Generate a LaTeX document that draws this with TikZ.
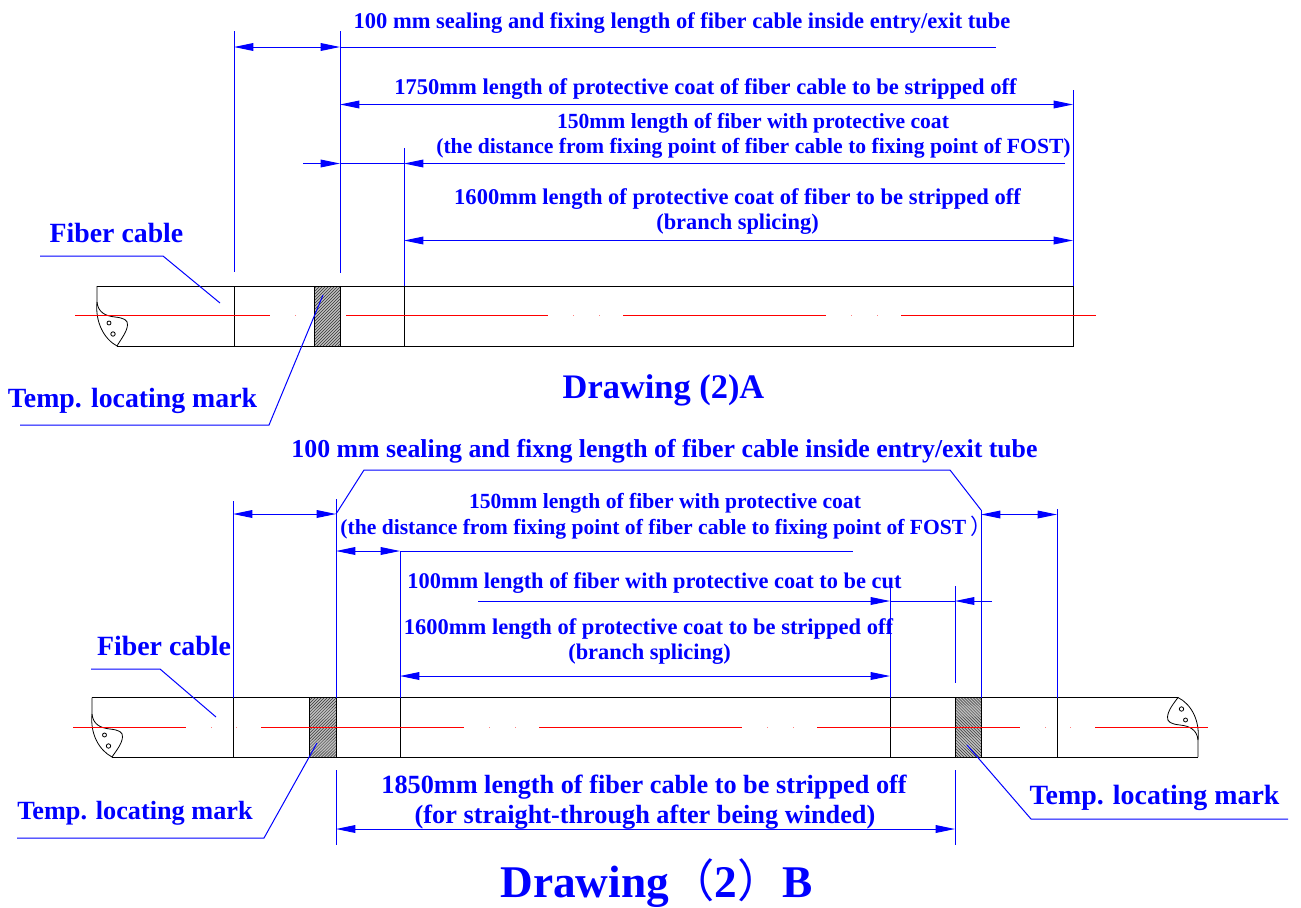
\documentclass[tikz,border=0pt]{standalone}
\usepackage{fontspec}
\setmainfont{Liberation Serif}
\newfontfamily\cjk{Noto Sans CJK SC}
\usetikzlibrary{arrows.meta}
\definecolor{dimblue}{RGB}{0,0,255}
\definecolor{centrered}{RGB}{255,0,0}
\tikzset{
  dim/.style={draw=dimblue,line width=0.75pt},
  tip/.style={dim,-{Triangle[length=14.5pt,width=5.8pt]}},
  tips/.style={dim,{Triangle[length=14.5pt,width=5.8pt]}-{Triangle[length=14.5pt,width=5.8pt]}},
  body/.style={draw=black,line width=0.75pt},
  curl/.style={draw=black,line width=0.6pt},
  centreline/.style={draw=centrered,line width=1pt},
  speck/.style={draw=centrered!50,line width=0.6pt},
  hatchline/.style={draw=black!80,line width=0.35pt},
  lab/.style={text=dimblue,anchor=base,inner sep=0pt,font=\fontsize{#1}{#1}\selectfont\bfseries},
}
\newcommand{\hatchup}[4]{% x0 y0 x1 y1
  \begin{scope}
    \clip (#1,#2) rectangle (#3,#4);
    \fill[black!25] (#1,#2) rectangle (#3,#4);
    \foreach \k in {0,3,...,90}{\draw[hatchline] (#1-5+\k,#4+2) -- (#1-5+\k+64,#2-2-0);}
    \foreach \k in {3,6,...,90}{\draw[hatchline] (#1-5-\k,#4+2) -- (#1-5-\k+64,#2-2-0);}
  \end{scope}}
\newcommand{\hatchdown}[4]{%
  \begin{scope}
    \clip (#1,#2) rectangle (#3,#4);
    \fill[black!25] (#1,#2) rectangle (#3,#4);
    \foreach \k in {0,3,...,90}{\draw[hatchline] (#1-5+\k,#2-2) -- (#1-5+\k+64,#4+2);}
    \foreach \k in {3,6,...,90}{\draw[hatchline] (#1-5-\k,#2-2) -- (#1-5-\k+64,#4+2);}
  \end{scope}}
\begin{document}
\begin{tikzpicture}[x=0.75pt,y=-0.75pt]
\useasboundingbox (0,0) rectangle (1301,907);
\fill[white] (0,0) rectangle (1301,907);

% ===== Drawing A body =====
\hatchup{314}{286}{340}{346}
\draw[body] (97,286) -- (1073,286) -- (1073,346) -- (117,346);
\draw[body] (234,286) -- (234,346);
\draw[body] (314,286) -- (314,346);
\draw[body] (340,286) -- (340,346);
\draw[body] (404,286) -- (404,346);
\draw[curl] (97,286) -- (97,302) .. controls (98,312) and (105,316) .. (115,317) .. controls (124,318) and (128,320) .. (127.5,325) .. controls (127,332) and (121,339) .. (117,346);
\draw[curl] (97,302) .. controls (95,322) and (104,339) .. (117,346);
\draw[curl] (109,323) circle (2);
\draw[curl] (113,334) circle (2.2);
\draw[centreline] (75,315.5) -- (270,315.5);
\draw[centreline] (346,315.5) -- (548,315.5);
\draw[centreline] (623,315.5) -- (826,315.5);
\draw[centreline] (901,315.5) -- (1096,315.5);
\foreach \p in {295,573,599,851,877}{\draw[speck] (\p,315.5) -- (\p+1.2,315.5);}

% ===== Drawing B body =====
\hatchup{309.5}{697.5}{336}{757}
\hatchdown{955}{697.5}{981}{757}
\draw[body] (92,697.5) -- (1178,697.5);
\draw[body] (112,757) -- (1198,757);
\foreach \p in {233,309.5,336,400,890,955,981,1057}{\draw[body] (\p,697.5) -- (\p,757);}
\draw[curl] (92,697.5) -- (92,714) .. controls (93,724) and (100,728) .. (110,729) .. controls (119,730) and (123,732) .. (122.5,737) .. controls (122,744) and (116,751) .. (112,757);
\draw[curl] (92,714) .. controls (90,734) and (99,750) .. (112,757);
\draw[curl] (104.5,735) circle (2);
\draw[curl] (108.5,746) circle (2.2);
\draw[curl] (1198,757) -- (1198,740) .. controls (1197,730) and (1190,726) .. (1180,725) .. controls (1171,724) and (1167,722) .. (1167.5,717) .. controls (1168,710) and (1174,703) .. (1178,697.5);
\draw[curl] (1198,740) .. controls (1200,720) and (1191,704) .. (1178,697.5);
\draw[curl] (1181.5,709) circle (2.2);
\draw[curl] (1185.5,720) circle (2);
\draw[centreline] (73,727.5) -- (186,727.5);
\draw[centreline] (261,727.5) -- (464,727.5);
\draw[centreline] (539,727.5) -- (742,727.5);
\draw[centreline] (817,727.5) -- (1020,727.5);
\draw[centreline] (1095,727.5) -- (1208,727.5);
\foreach \p in {211,236,489,515,767,793,1045,1070}{\draw[speck] (\p,727.5) -- (\p+1.2,727.5);}

% ===== Labels A =====
\node[lab=16.87] (a1) at (682,28) {100 mm sealing and fixing length of fiber cable inside entry/exit tube};
\node[lab=16.9] (a2) at (705.5,94) {1750mm length of protective coat of fiber cable to be stripped off};
\node[lab=16.2] (a3) at (753,128) {150mm length of fiber with protective coat};
\node[lab=16.23] (a4) at (753.5,153) {(the distance from fixing point of fiber cable to fixing point of FOST)};
\node[lab=16.9] (a5) at (737.5,204) {1600mm length of protective coat of fiber to be stripped off};
\node[lab=16.8] (a6) at (737.5,229) {(branch splicing)};
\node[lab=20.85] (a7) at (116.5,242) {Fiber cable};
\node[lab=20.85] (a8) at (132.5,407) {Temp. locating mark};
\node[lab=25.8] (a9) at (663.5,398) {Drawing (2)A};

% ===== Labels B =====
\node[lab=19.35] (b1) at (664.5,457) {100 mm sealing and fixng length of fiber cable inside entry/exit tube};
\node[lab=16.2] (b2) at (665,508) {150mm length of fiber with protective coat};
\node[lab=16.2] (b3) at (666,534) {(the distance from fixing point of fiber cable to fixing point of FOST\,{\cjk\mdseries ）}};
\node[lab=16.8] (b4) at (654.5,588) {100mm length of fiber with protective coat to be cut};
\node[lab=16.86] (b5) at (648.5,634) {1600mm length of protective coat to be stripped off};
\node[lab=16.8] (b6) at (649.5,659) {(branch splicing)};
\node[lab=20.9] (b7) at (164,655) {Fiber cable};
\node[lab=19.7] (b8) at (135,819) {Temp. locating mark};
\node[lab=20.9] (b9) at (1154.5,804) {Temp. locating mark};
\node[lab=19.7] (b10) at (644,793) {1850mm length of fiber cable to be stripped off};
\node[lab=19.7] (b11) at (645,823) {(for straight-through after being winded)};
\node[lab=34] (b12) at (656.5,897) {Drawing{\cjk\mdseries （}2{\cjk\mdseries ）}B};

% ===== Dimension lines A =====
\coordinate (A1t) at (234,31);   \coordinate (A1b) at (234,272);
\coordinate (A2t) at (340,31);   \coordinate (A2b) at (340,273);
\coordinate (A3t) at (1073,90);  \coordinate (A3b) at (1073,286);
\coordinate (A4t) at (404,148);  \coordinate (A4b) at (404,286);
\draw[dim] (A1t) -- (A1b);
\draw[dim] (A2t) -- (A2b);
\draw[dim] (A3t) -- (A3b);
\draw[dim] (A4t) -- (A4b);
\coordinate (Aa) at (234,47); \coordinate (Ab) at (340,47); \coordinate (Ac) at (996,47);
\draw[tips] (Aa) -- (Ab);
\draw[dim] (Ab) -- (Ac);
\coordinate (Ad) at (340,104.5); \coordinate (Ae) at (1073,104.5);
\draw[tips] (Ad) -- (Ae);
\coordinate (Af) at (303,163.5); \coordinate (Ag) at (340,163.5); \coordinate (Ah) at (404,163.5); \coordinate (Ai) at (1065,163.5);
\draw[tip] (Af) -- (Ag);
\draw[dim] (Ag) -- (Ah);
\draw[tip] (Ai) -- (Ah);
\coordinate (Aj) at (404,240.5); \coordinate (Ak) at (1073,240.5);
\draw[tips] (Aj) -- (Ak);
% leaders A
\coordinate (Al) at (40,256); \coordinate (Am) at (163,256); \coordinate (An) at (220,303);
\draw[dim] (Al) -- (Am) -- (An);
\coordinate (Ao) at (20,425); \coordinate (Ap) at (269,425); \coordinate (Aq) at (323,295);
\draw[dim] (Ao) -- (Ap) -- (Aq);

% ===== Dimension lines B =====
\coordinate (B1t) at (233,501);  \coordinate (B1b) at (233,697.5);
\coordinate (B2t) at (336,499);  \coordinate (B2b) at (336,697.5);
\coordinate (B3t) at (981,510);  \coordinate (B3b) at (981,697.5);
\coordinate (B4t) at (1057,509); \coordinate (B4b) at (1057,697.5);
\coordinate (B5t) at (400,551);  \coordinate (B5b) at (400,697.5);
\coordinate (B6t) at (890,587);  \coordinate (B6b) at (890,697.5);
\coordinate (B7t) at (955,586);  \coordinate (B7b) at (955,683);
\coordinate (B8t) at (336,770);  \coordinate (B8b) at (336,845);
\coordinate (B9t) at (955,770);  \coordinate (B9b) at (955,845);
\foreach \n in {1,...,9}{\draw[dim] (B\n t) -- (B\n b);}
\coordinate (Ba) at (233,514); \coordinate (Bb) at (336,514);
\draw[tips] (Ba) -- (Bb);
\coordinate (Bc) at (981,514.5); \coordinate (Bd) at (1057,514.5);
\draw[tips] (Bc) -- (Bd);
\coordinate (Be) at (336,551); \coordinate (Bf) at (400,551); \coordinate (Bg) at (853,551);
\draw[tips] (Be) -- (Bf);
\draw[dim] (Bf) -- (Bg);
\coordinate (Bh) at (478,601); \coordinate (Bi) at (890,601); \coordinate (Bj) at (955,601); \coordinate (Bk) at (992,601);
\draw[tip] (Bh) -- (Bi);
\draw[dim] (Bi) -- (Bj);
\draw[tip] (Bk) -- (Bj);
\coordinate (Bl) at (400,676); \coordinate (Bm) at (890,676);
\draw[tips] (Bl) -- (Bm);
\coordinate (Bn) at (336,829); \coordinate (Bo) at (955,829);
\draw[tips] (Bn) -- (Bo);
% leaders B
\coordinate (Bp) at (364,470); \coordinate (Bq) at (950,470);
\draw[dim] (Bb) -- (Bp) -- (Bq) -- (B3t);
\coordinate (Br) at (91,669); \coordinate (Bs) at (160,669); \coordinate (Bt) at (216,717);
\draw[dim] (Br) -- (Bs) -- (Bt);
\coordinate (Bu) at (17,838); \coordinate (Bv) at (264,838); \coordinate (Bw) at (317,743);
\draw[dim] (Bu) -- (Bv) -- (Bw);
\coordinate (Bx) at (967,745); \coordinate (By) at (1031,819); \coordinate (Bz) at (1288,819);
\draw[dim] (Bx) -- (By) -- (Bz);
\end{tikzpicture}
\end{document}
